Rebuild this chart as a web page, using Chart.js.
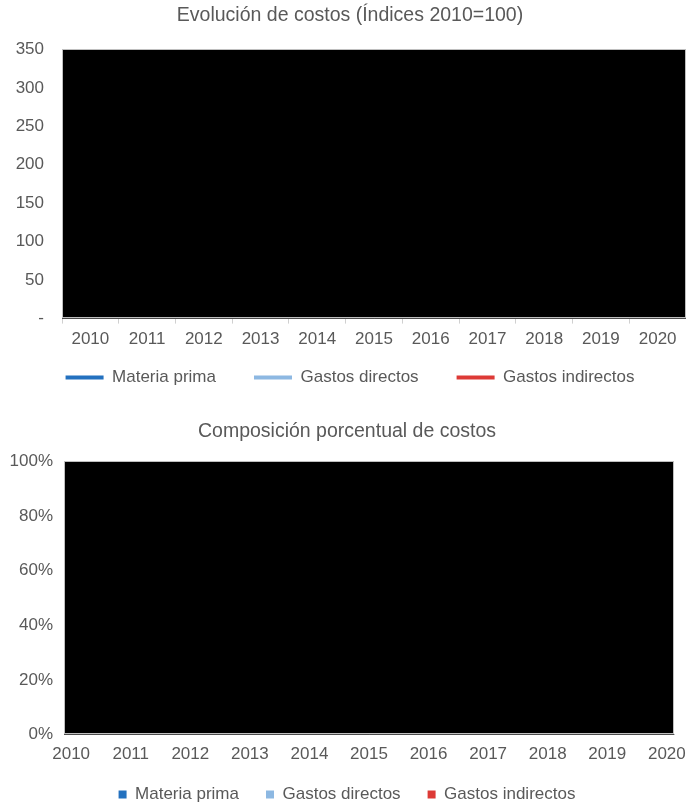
<!DOCTYPE html>
<html lang="es">
<head>
<meta charset="utf-8">
<title>Costos</title>
<script src="https://cdn.jsdelivr.net/npm/chart.js@4.4.1/dist/chart.umd.min.js"></script>
<style>
  html, body { margin: 0; padding: 0; background: #ffffff; overflow: hidden; }
  #wrap { position: relative; width: 686px; height: 802px; overflow: hidden; }
  #c1 { position: absolute; left: 0; top: 0; }
  #c2 { position: absolute; left: 0; top: 400px; }
</style>
</head>
<body>
<div id="wrap">
  <canvas id="c1" width="686" height="421"></canvas>
  <canvas id="c2" width="686" height="429"></canvas>
</div>
<script>
// ---- data ----
const years = [2010, 2011, 2012, 2013, 2014, 2015, 2016, 2017, 2018, 2019, 2020];
const seriesNames = ['Materia prima', 'Gastos directos', 'Gastos indirectos'];

// Índices 2010=100 (series values are not available; plot area is blacked out)
const indiceMateriaPrima = [];
const indiceGastosDirectos = [];
const indiceGastosIndirectos = [];

// Composición porcentual (shares, 0..1; not available)
const pctMateriaPrima = [];
const pctGastosDirectos = [];
const pctGastosIndirectos = [];

// axis ticks
const indexTicks = [0, 50, 100, 150, 200, 250, 300, 350];
const pctTicks = [0, 0.2, 0.4, 0.6, 0.8, 1];

// ---- styling ----
const FONT = '"Liberation Sans", Arial, sans-serif';
const TEXT = '#595959';
const COLORS = ['#2371bf', '#8db8e2', '#dd3a36'];

// fills the plot area black with a thin grey frame
const blackPlotArea = {
  id: 'blackPlotArea',
  beforeDatasetsDraw(chart) {
    const { ctx, chartArea: a } = chart;
    ctx.save();
    ctx.fillStyle = '#000000';
    ctx.fillRect(a.left, a.top, a.right - a.left, a.bottom - a.top);
    ctx.strokeStyle = '#bfbfbf';
    ctx.lineWidth = 1;
    ctx.strokeRect(Math.round(a.left) + 0.5, Math.round(a.top) + 0.5,
                   Math.round(a.right - a.left) - 1, Math.round(a.bottom - a.top) - 1);
    ctx.restore();
  }
};

// pulls the legend up towards the x axis (its label padding is also used as the item gap)
const legendLift = {
  id: 'legendLift',
  afterLayout(chart, args, opts) {
    const L = chart.legend;
    if (L && opts.by) { L.top -= opts.by; L.bottom -= opts.by; }
  }
};

function legendLabels(chart) {
  return Chart.defaults.plugins.legend.labels.generateLabels(chart)
    .map(l => Object.assign(l, { lineWidth: 0, fontColor: TEXT }));
}

// ---- Evolución de costos (Índices 2010=100) ----
const indexSeries = [indiceMateriaPrima, indiceGastosDirectos, indiceGastosIndirectos];
new Chart(document.getElementById('c1'), {
  type: 'line',
  data: {
    labels: years.map(String),
    datasets: seriesNames.map((name, i) => ({
      label: name,
      data: indexSeries[i],
      borderColor: COLORS[i],
      backgroundColor: COLORS[i],
      borderWidth: 3,
      pointRadius: 0,
      fill: false
    }))
  },
  options: {
    responsive: false,
    animation: false,
    events: [],
    layout: { padding: { top: 4, left: 14, right: 0, bottom: 0 } },
    plugins: {
      title: {
        display: true,
        text: 'Evolución de costos (Índices 2010=100)',
        color: TEXT,
        font: { family: FONT, size: 19.5, weight: 'normal' },
        padding: { top: 0, bottom: 22 }
      },
      legend: {
        position: 'bottom',
        labels: {
          boxWidth: 38,
          boxHeight: 4,
          padding: 38,
          color: TEXT,
          font: { family: FONT, size: 17 },
          generateLabels: legendLabels
        }
      },
      legendLift: { by: 25 },
      tooltip: { enabled: false }
    },
    scales: {
      x: {
        type: 'category',
        offset: true,
        grid: { display: true, offset: true, drawOnChartArea: false, drawTicks: true, tickLength: 5, color: '#d0d0d0' },
        border: { display: true, color: '#bfbfbf' },
        ticks: { color: TEXT, font: { family: FONT, size: 17 }, padding: 6, maxRotation: 0, autoSkip: false }
      },
      y: {
        min: 0,
        max: 350,
        afterBuildTicks(s) { s.ticks = indexTicks.map(v => ({ value: v })); },
        grid: { display: false, drawTicks: false },
        border: { display: false },
        ticks: {
          color: TEXT,
          font: { family: FONT, size: 17 },
          padding: 18,
          callback: v => (v === 0 ? '-' : String(v))
        },
        afterFit(s) { s.width = 48; }
      }
    }
  },
  plugins: [blackPlotArea, legendLift]
});

// ---- Composición porcentual de costos ----
const pctSeries = [pctMateriaPrima, pctGastosDirectos, pctGastosIndirectos];
new Chart(document.getElementById('c2'), {
  type: 'line',
  data: {
    labels: years,
    datasets: seriesNames.map((name, i) => ({
      label: name,
      data: pctSeries[i],
      borderColor: COLORS[i],
      backgroundColor: COLORS[i],
      borderWidth: 0,
      pointRadius: 0,
      fill: i === 0 ? 'origin' : '-1'
    }))
  },
  options: {
    responsive: false,
    animation: false,
    events: [],
    layout: { padding: { top: 20, left: 8, right: 0, bottom: 0 } },
    plugins: {
      title: {
        display: true,
        text: 'Composición porcentual de costos',
        color: TEXT,
        font: { family: FONT, size: 19.5, weight: 'normal' },
        padding: { top: 0, bottom: 18 }
      },
      legend: {
        position: 'bottom',
        labels: {
          boxWidth: 8,
          boxHeight: 8,
          padding: 27,
          color: TEXT,
          font: { family: FONT, size: 17 },
          generateLabels: legendLabels
        }
      },
      legendLift: { by: 16 },
      tooltip: { enabled: false }
    },
    scales: {
      x: {
        type: 'linear',
        min: 2009.88,
        max: 2020.12,
        grid: { display: false, drawTicks: false },
        border: { display: true, color: '#bfbfbf' },
        ticks: {
          stepSize: 1,
          maxTicksLimit: 20,
          includeBounds: false,
          color: TEXT,
          font: { family: FONT, size: 17 },
          padding: 10,
          maxRotation: 0,
          autoSkip: false,
          callback: v => (years.includes(v) ? String(v) : '')
        },
        afterFit(s) { s.paddingLeft = 0; s.paddingRight = 12; }
      },
      y: {
        stacked: true,
        min: 0,
        max: 1,
        afterBuildTicks(s) { s.ticks = pctTicks.map(v => ({ value: v })); },
        grid: { display: false, drawTicks: false },
        border: { display: false },
        ticks: {
          color: TEXT,
          font: { family: FONT, size: 17 },
          padding: 11,
          callback: v => Math.round(v * 100) + '%'
        },
        afterFit(s) { s.width = 56; }
      }
    }
  },
  plugins: [blackPlotArea, legendLift]
});
</script>
</body>
</html>
